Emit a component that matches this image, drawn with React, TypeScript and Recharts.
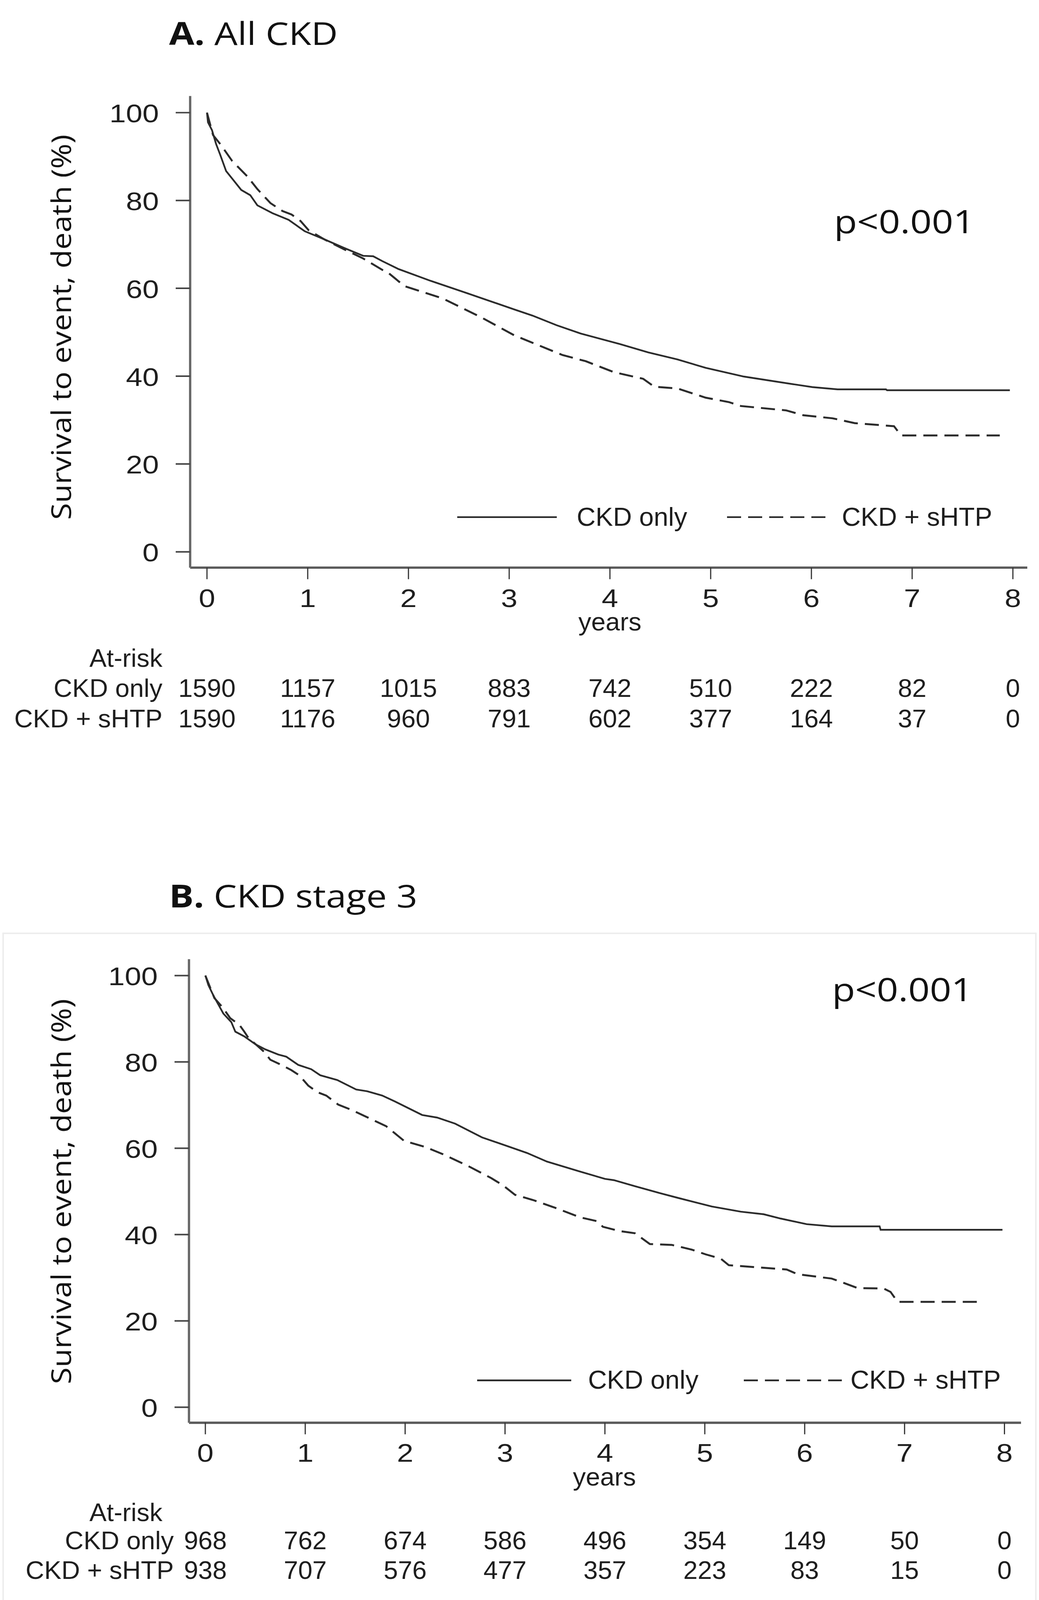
import React from 'react';
import { LineChart, Line, XAxis, YAxis } from 'recharts';

// ---------- data ----------
const years = [0, 1, 2, 3, 4, 5, 6, 7, 8];
const yTicks = [0, 20, 40, 60, 80, 100];

// Panel A: All CKD  [years, survival %]
const aCkdOnly: [number, number][] = [
  [0, 100], [0.01, 97.8], [0.05, 96.0], [0.09, 92.9], [0.13, 90.5], [0.19, 86.7], [0.26, 84.7],
  [0.34, 82.4], [0.43, 81.2], [0.5, 78.9], [0.65, 77.1], [0.81, 75.6], [0.97, 73.0], [1.16, 71.2],
  [1.36, 69.2], [1.55, 67.4], [1.65, 67.3], [1.74, 66.2], [1.9, 64.4], [2.22, 61.7], [2.58, 58.9],
  [3.05, 55.2], [3.23, 53.8], [3.47, 51.6], [3.71, 49.7], [4.1, 47.3], [4.38, 45.4], [4.67, 43.8],
  [4.95, 41.9], [5.33, 39.9], [5.61, 38.9], [6.01, 37.5], [6.26, 37.0], [6.74, 37.0], [6.75, 36.8],
  [7.97, 36.8],
];
const aCkdShtp: [number, number][] = [
  [0, 100], [0.06, 94.9], [0.14, 92.6], [0.25, 89.0], [0.4, 85.5], [0.5, 82.6], [0.63, 79.4],
  [0.75, 77.6], [0.84, 76.8], [0.93, 75.3], [1.01, 73.2], [1.16, 71.2], [1.36, 68.9], [1.55, 66.8],
  [1.74, 64.2], [1.78, 63.9], [1.96, 60.5], [2.34, 57.7], [2.73, 53.3], [3.05, 49.3], [3.53, 44.8],
  [3.76, 43.4], [4.04, 40.9], [4.33, 39.4], [4.44, 37.6], [4.67, 37.2], [4.95, 35.1], [5.18, 34.1],
  [5.3, 33.2], [5.75, 32.2], [5.92, 31.1], [6.21, 30.4], [6.43, 29.3], [6.82, 28.6], [6.89, 26.5],
  [7.87, 26.5],
];
const aRiskOnly = [1590, 1157, 1015, 883, 742, 510, 222, 82, 0];
const aRiskShtp = [1590, 1176, 960, 791, 602, 377, 164, 37, 0];

// Panel B: CKD stage 3
const bCkdOnly: [number, number][] = [
  [0, 100], [0.03, 97.8], [0.08, 95.4], [0.13, 93.3], [0.18, 91.2], [0.26, 89.2], [0.3, 87.0],
  [0.39, 85.9], [0.5, 84.1], [0.6, 82.9], [0.73, 81.7], [0.81, 81.2], [0.93, 79.3], [1.06, 78.3],
  [1.15, 76.9], [1.32, 75.8], [1.51, 73.6], [1.62, 73.2], [1.77, 72.2], [1.9, 70.8], [2.17, 67.7],
  [2.32, 67.1], [2.5, 65.7], [2.77, 62.5], [3.01, 60.6], [3.22, 58.9], [3.42, 56.9], [3.75, 54.6],
  [4.0, 52.9], [4.09, 52.6], [4.3, 51.2], [4.55, 49.6], [4.73, 48.5], [5.07, 46.5], [5.36, 45.3],
  [5.59, 44.7], [5.76, 43.7], [6.02, 42.4], [6.27, 41.9], [6.75, 41.9], [6.76, 41.1], [7.98, 41.1],
];
const bCkdShtp: [number, number][] = [
  [0, 100], [0.09, 94.8], [0.17, 92.7], [0.25, 90.1], [0.34, 88.6], [0.39, 87.0], [0.43, 85.6],
  [0.59, 82.3], [0.65, 80.5], [0.76, 79.3], [0.86, 78.1], [0.94, 76.9], [1.03, 74.5], [1.12, 73.0],
  [1.21, 72.2], [1.33, 70.1], [1.46, 68.9], [1.6, 67.4], [1.81, 65.1], [1.99, 61.7], [2.2, 60.3],
  [2.38, 58.6], [2.62, 56.0], [2.86, 53.1], [2.98, 51.4], [3.1, 49.2], [3.28, 48.0], [3.49, 46.3],
  [3.75, 44.0], [3.92, 43.1], [3.98, 41.8], [4.15, 40.8], [4.3, 40.3], [4.45, 37.8], [4.67, 37.6],
  [4.87, 36.5], [5.01, 35.4], [5.16, 34.4], [5.24, 32.9], [5.59, 32.3], [5.82, 31.9], [5.93, 30.8],
  [6.27, 29.8], [6.39, 28.8], [6.53, 27.6], [6.79, 27.5], [6.86, 26.7], [6.93, 24.4], [7.78, 24.4],
];
const bRiskOnly = [968, 762, 674, 586, 496, 354, 149, 50, 0];
const bRiskShtp = [938, 707, 576, 477, 357, 223, 83, 15, 0];

// ---------- styling ----------
const ARIAL = '"Liberation Sans", Arial, Helvetica, sans-serif';
const CAL = '"Open Sans", "Noto Sans", sans-serif';
const TXT = '#1e1e1e';
const LINE = '#2b2b2b';
const DASH = '36 18';
const PAGE_W = 2661;
const PAGE_H = 4152;

const toRows = (pts: [number, number][]) => pts.map(([t, s]) => ({ t, s }));

const YTick = (props: any) => {
  const { x, y, payload } = props;
  return (
    <g transform={`translate(${x},${y + 25}) scale(1.15,1)`}>
      <text textAnchor="end" fontFamily={ARIAL} fontSize={66} fill={TXT}>{payload.value}</text>
    </g>
  );
};

const makeXTick = (r1: number[], r2: number[], d0: number, d1: number, d2: number) => (props: any) => {
  const { x, y, payload } = props;
  const i = years.indexOf(payload.value);
  return (
    <g>
      <g transform={`translate(${x},${y + d0}) scale(1.15,1)`}>
        <text textAnchor="middle" fontFamily={ARIAL} fontSize={66} fill={TXT}>{payload.value}</text>
      </g>
      <text x={x} y={y + d1} textAnchor="middle" fontFamily={ARIAL} fontSize={66} fill={TXT}>{r1[i]}</text>
      <text x={x} y={y + d2} textAnchor="middle" fontFamily={ARIAL} fontSize={66} fill={TXT}>{r2[i]}</text>
    </g>
  );
};

type PanelProps = {
  top: number;
  height: number;
  marginTop: number;
  marginRight: number;
  yAxisWidth: number;
  xAxisHeight: number;
  xDomain: [number, number];
  only: [number, number][];
  shtp: [number, number][];
  r1: number[];
  r2: number[];
  d: [number, number, number];
};

const Panel = (p: PanelProps) => (
  <div style={{ position: 'absolute', left: 0, top: p.top, width: PAGE_W, height: p.height }}>
    <LineChart
      width={PAGE_W}
      height={p.height}
      margin={{ top: p.marginTop, right: p.marginRight, left: 0, bottom: 0 }}
    >
      <XAxis
        dataKey="t"
        type="number"
        domain={p.xDomain}
        allowDataOverflow
        ticks={years}
        interval={0}
        height={p.xAxisHeight}
        tickSize={30}
        tickMargin={0}
        axisLine={{ stroke: '#5a5a5a', strokeWidth: 6 }}
        tickLine={{ stroke: '#333', strokeWidth: 3 }}
        tick={makeXTick(p.r1, p.r2, p.d[0], p.d[1], p.d[2])}
      />
      <YAxis
        type="number"
        domain={[-3.6, 103.8]}
        allowDataOverflow
        ticks={yTicks}
        interval={0}
        width={p.yAxisWidth}
        tickSize={37}
        tickMargin={43}
        axisLine={{ stroke: '#6a6a6a', strokeWidth: 6 }}
        tickLine={{ stroke: '#444', strokeWidth: 4 }}
        tick={<YTick />}
      />
      <Line
        data={toRows(p.only)}
        dataKey="s"
        type="linear"
        dot={false}
        stroke={LINE}
        strokeWidth={4.5}
        isAnimationActive={false}
      />
      <Line
        data={toRows(p.shtp)}
        dataKey="s"
        type="linear"
        dot={false}
        stroke={LINE}
        strokeWidth={5}
        strokeDasharray={DASH}
        isAnimationActive={false}
      />
    </LineChart>
  </div>
);

const Title = ({ x, y, bold, rest }: { x: number; y: number; bold: string; rest: string }) => (
  <g transform={`translate(${x},${y}) scale(1.16,1)`}>
    <text fontFamily={CAL} fontSize={81} fill="#111">
      <tspan fontWeight={700}>{bold}</tspan>
      <tspan>{rest}</tspan>
    </text>
  </g>
);

const PVal = ({ x, y }: { x: number; y: number }) => (
  <g transform={`translate(${x},${y}) scale(1.15,1)`}>
    <text fontFamily={CAL} fontSize={84} fill="#111">p&lt;0.001</text>
  </g>
);

const Legend = ({ y, s0, s1, t1, d0, d1, t2 }: { y: number; s0: number; s1: number; t1: number; d0: number; d1: number; t2: number }) => (
  <g>
    <line x1={s0} x2={s1} y1={y} y2={y} stroke={LINE} strokeWidth={4.5} />
    <text x={t1} y={y + 22} fontFamily={ARIAL} fontSize={67} fill={TXT}>CKD only</text>
    <line x1={d0} x2={d1} y1={y} y2={y} stroke={LINE} strokeWidth={4.5} strokeDasharray={DASH} />
    <text x={t2} y={y + 22} fontFamily={ARIAL} fontSize={67} fill={TXT}>CKD + sHTP</text>
  </g>
);

const YLabel = ({ cx, cy }: { cx: number; cy: number }) => (
  <text
    transform={`translate(${cx},${cy}) rotate(-90)`}
    textAnchor="middle"
    fontFamily={CAL}
    fontSize={70}
    fill="#111"
    textLength={1000}
    lengthAdjust="spacingAndGlyphs"
  >
    Survival to event, death (%)
  </text>
);

const RiskLabels = ({ xHead, xRows, yHead, y1, y2 }: { xHead: number; xRows: number; yHead: number; y1: number; y2: number }) => (
  <g fontFamily={ARIAL} fontSize={66} fill={TXT} textAnchor="end">
    <text x={xHead} y={yHead}>At-risk</text>
    <text x={xRows} y={y1}>CKD only</text>
    <text x={xRows} y={y2}>CKD + sHTP</text>
  </g>
);

export default function App() {
  // The visible viewport can be a little shorter than the requested page height;
  // fit the whole figure into it so nothing is cut off at the bottom.
  const vh = typeof window !== 'undefined' && window.innerHeight > 0 ? window.innerHeight : PAGE_H;
  const vw = typeof window !== 'undefined' && window.innerWidth > 0 ? window.innerWidth : PAGE_W;
  const sy = Math.min(1.2, Math.max(0.8, vh / PAGE_H));
  const sx = Math.min(1.2, Math.max(0.8, vw / PAGE_W));
  return (
    <div style={{ position: 'fixed', left: 0, top: 0, width: vw, height: vh, overflow: 'hidden', background: '#fff' }}>
      <div
        style={{
          position: 'absolute',
          left: 0,
          top: 0,
          width: PAGE_W,
          height: PAGE_H,
          background: '#fff',
          transformOrigin: '0 0',
          transform: `scale(${sx}, ${sy})`,
        }}
      >
        <Panel
          top={0}
          height={1950}
          marginTop={249}
          marginRight={30}
          yAxisWidth={487}
          xAxisHeight={477}
          xDomain={[-0.167, 8.143]}
          only={aCkdOnly}
          shtp={aCkdShtp}
          r1={aRiskOnly}
          r2={aRiskShtp}
          d={[72, 305, 384]}
        />
        <Panel
          top={2200}
          height={1950}
          marginTop={289}
          marginRight={46}
          yAxisWidth={484}
          xAxisHeight={458}
          xDomain={[-0.164, 8.166]}
          only={bCkdOnly}
          shtp={bCkdShtp}
          r1={bRiskOnly}
          r2={bRiskShtp}
          d={[71, 298, 375]}
        />
        <svg
          width={PAGE_W}
          height={PAGE_H}
          style={{ position: 'absolute', left: 0, top: 0, pointerEvents: 'none' }}
        >
          <rect x={8} y={2422} width={2645} height={1800} fill="none" stroke="#ededed" strokeWidth={4} />
          <Title x={433} y={117} bold="A." rest=" All CKD" />
          <Title x={433} y={2355} bold="B." rest=" CKD stage 3" />
          <PVal x={2136} y={605} />
          <PVal x={2131} y={2598} />
          <YLabel cx={182} cy={849} />
          <YLabel cx={182} cy={3092} />
          <Legend y={1342} s0={1171} s1={1426} t1={1477} d0={1862} d1={2122} t2={2156} />
          <Legend y={3582} s0={1222} s1={1463} t1={1506} d0={1905} d1={2156} t2={2178} />
          <text x={1562} y={1636} textAnchor="middle" fontFamily={ARIAL} fontSize={66} fill={TXT}>years</text>
          <text x={1548} y={3855} textAnchor="middle" fontFamily={ARIAL} fontSize={66} fill={TXT}>years</text>
          <RiskLabels xHead={416} xRows={416} yHead={1730} y1={1808} y2={1887} />
          <RiskLabels xHead={416} xRows={445} yHead={3947} y1={4020} y2={4097} />
        </svg>
      </div>
    </div>
  );
}
